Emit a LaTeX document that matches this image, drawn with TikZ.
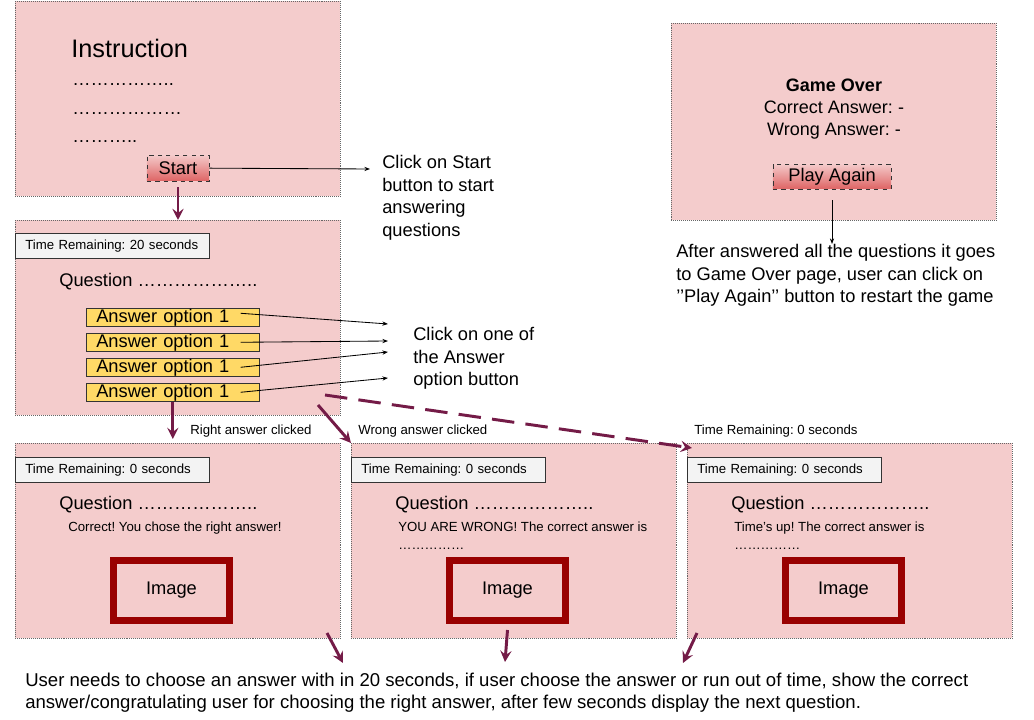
\documentclass[tikz,border=0pt]{standalone}
\usepackage{fontspec}
\setmainfont{Liberation Sans}
\usetikzlibrary{arrows.meta,positioning}
\definecolor{pagepink}{HTML}{F4CCCC}
\definecolor{flowpurple}{HTML}{741B47}
\definecolor{optyellow}{HTML}{FFD966}
\definecolor{imgred}{HTML}{990000}
\definecolor{timergray}{HTML}{F3F3F3}
\definecolor{btntop}{HTML}{F4CACA}
\definecolor{btnbottom}{HTML}{DE6464}
\newcommand{\pxfont}[2]{\fontsize{#1}{#2}\selectfont}
\frenchspacing

\begin{document}
\begin{tikzpicture}[x=0.025cm, y=-0.025cm,
  page/.style={draw=black!60, densely dotted, fill=pagepink, minimum width=8.125cm, minimum height=4.875cm, inner sep=0pt},
  timer/.style={draw=black!80, fill=timergray, text width=4.35cm, inner xsep=0.25cm, inner ysep=0pt, minimum height=0.625cm, align=left, font=\pxfont{9.4pt}{11pt}},
  answer/.style={draw=black!80, fill=optyellow, text width=3.825cm, inner xsep=0.25cm, inner ysep=0pt, minimum height=0.45cm, align=left, font=\pxfont{13pt}{14pt}},
  btn/.style={draw=black!80, dashed, top color=btntop, bottom color=btnbottom, inner sep=0pt, font=\pxfont{13pt}{14pt}},
  imagebox/.style={draw=imgred, line width=0.175cm, fill=pagepink, minimum width=2.9cm, minimum height=1.5cm, font=\pxfont{13pt}{14pt}},
  question/.style={inner sep=0pt, font=\pxfont{13pt}{14pt}},
  msg/.style={inner sep=0pt, align=left, font=\pxfont{9.4pt}{12.8pt}},
  note/.style={inner sep=0pt, align=left, font=\pxfont{13pt}{16pt}},
  flowtext/.style={inner sep=0pt, font=\pxfont{9.4pt}{11pt}},
  flow/.style={-{Stealth[length=8pt, width=8pt, inset=3pt]}, flowpurple, line width=2.1pt},
  pointer/.style={-{Stealth[length=4pt, width=3pt]}, black, line width=0.6pt}
]
\useasboundingbox (0,0) rectangle (1034,720);

% Startseite
\node[page, anchor=north west] (intro) at (15,1) {};
\node[inner sep=0pt, anchor=west, font=\pxfont{18pt}{20pt}] (introtitle) at (71,48) {Instruction};
\node[question, anchor=west] (introline1) at (72,85) {……………..};
\node[question, anchor=west] (introline2) at (72,114) {………………};
\node[question, anchor=west] (introline3) at (72,142) {………..};
\node[btn, minimum width=1.55cm, minimum height=0.65cm] (start) at (178,168) {Start};
\coordinate (starttip) at (370,169);
\draw[pointer] (start) -- (starttip);
\node[note, anchor=north west] (startnote) at (382,155) {Click on Start\\button to start\\answering\\questions};

% Frageseite
\node[page, anchor=north west] (quiz) at (15,220) {};
\node[timer, anchor=north west] (quiztimer) at (15,233) {Time Remaining: 20 seconds};
\node[question, anchor=west] (quizq) at (59,282) {Question ………………..};
\node[answer, anchor=north west] (ans1) at (86,308) {Answer option 1};
\node[answer, anchor=north west] (ans2) at (86,333) {Answer option 1};
\node[answer, anchor=north west] (ans3) at (86,358) {Answer option 1};
\node[answer, anchor=north west] (ans4) at (86,383) {Answer option 1};
\coordinate (anstip1) at (388,324);
\coordinate (anstip2) at (388,341);
\coordinate (anstip3) at (388,352);
\coordinate (anstip4) at (388,378);
\draw[pointer] ([xshift=-0.475cm, yshift=0.1cm]ans1.east) -- (anstip1);
\draw[pointer] ([xshift=-0.475cm]ans2.east) -- (anstip2);
\draw[pointer] ([xshift=-0.475cm]ans3.east) -- (anstip3);
\draw[pointer] ([xshift=-0.475cm]ans4.east) -- (anstip4);
\node[note, anchor=north west] (ansnote) at (413,327) {Click on one of\\the Answer\\option button};
\draw[flow] ([yshift=-0.15cm]start.south) -- (start.south |- quiz.north);

% Ergebnisseiten
\node[page, anchor=north west] (resA) at (15,443) {};
\node[timer, anchor=north west] (resAtimer) at (15,457) {Time Remaining: 0 seconds};
\node[question, anchor=west] (resAq) at (59,505) {Question ………………..};
\node[msg, anchor=north west] (resAmsg) at (68,522) {Correct! You chose the right answer!};
\node[imagebox] (resAimg) at (171.5,590.5) {Image};

\node[page, anchor=north west] (resB) at (351,443) {};
\node[timer, anchor=north west] (resBtimer) at (351,457) {Time Remaining: 0 seconds};
\node[question, anchor=west] (resBq) at (395,505) {Question ………………..};
\node[msg, anchor=north west] (resBmsg) at (398,522) {YOU ARE WRONG! The correct answer is\\……………};
\node[imagebox] (resBimg) at (507.5,590.5) {Image};

\node[page, anchor=north west] (resC) at (687,443) {};
\node[timer, anchor=north west] (resCtimer) at (687,457) {Time Remaining: 0 seconds};
\node[question, anchor=west] (resCq) at (731,505) {Question ………………..};
\node[msg, anchor=north west] (resCmsg) at (734,522) {Time’s up! The correct answer is\\……………};
\node[imagebox] (resCimg) at (843.5,590.5) {Image};

% Uebergaenge
\coordinate (wrongfrom) at (318,405);
\coordinate (timeoutfrom) at (325,395);
\coordinate (timeoutto) at (692,448);
\draw[flow, shorten >=0.1cm] (ans4.south) -- (ans4.south |- resA.north);
\draw[flow] (wrongfrom) -- (resB.north west);
\draw[flow, dash pattern=on 16pt off 8pt] (timeoutfrom) -- (timeoutto);
\node[flowtext, anchor=west] (rightlbl) at (190,431) {Right answer clicked};
\node[flowtext, anchor=west] (wronglbl) at (358,431) {Wrong answer clicked};
\node[flowtext, anchor=west] (timeoutlbl) at (694,431) {Time Remaining: 0 seconds};

% naechste Frage
\coordinate (nextA) at (327,633);
\coordinate (nextAto) at (343,663);
\coordinate (nextBto) at (505,662);
\coordinate (nextC) at (697,633);
\coordinate (nextCto) at (683,663);
\draw[flow] (nextA) -- (nextAto);
\draw[flow] ([yshift=-0.15cm]resBimg.south) -- (nextBto);
\draw[flow] (nextC) -- (nextCto);
\node[note, anchor=north west, font=\pxfont{13.2pt}{15.6pt}] (endnote) at (25,673) {User needs to choose an answer with in 20 seconds, if user choose the answer or run out of time, show the correct\\answer/congratulating user for choosing the right answer, after few seconds display the next question.};

% Spielende
\node[page, anchor=north west, minimum height=4.925cm] (over) at (671,23) {};
\node[note, align=center, font=\pxfont{12.8pt}{15.5pt}] (overinfo) at (834,109) {\textbf{Game Over}\\Correct Answer: -\\Wrong Answer: -};
\node[btn, minimum width=2.95cm, minimum height=0.625cm] (again) at (832,176.5) {Play Again};
\node[note, anchor=north west] (overnote) at (676,244) {After answered all the questions it goes\\to Game Over page, user can click on\\{'}{'}Play Again{'}{'} button to restart the game};
\draw[pointer] ([yshift=-0.275cm]again.south) -- (again.south |- overnote.north);

\end{tikzpicture}
\end{document}
